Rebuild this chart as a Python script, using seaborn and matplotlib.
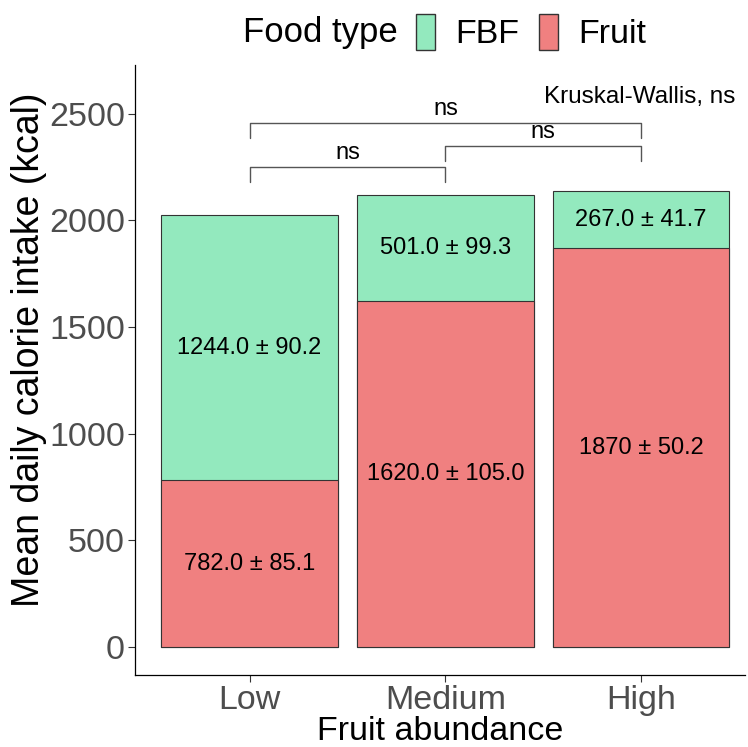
import numpy as np
import pandas as pd
import matplotlib
matplotlib.use('Agg')
import matplotlib.pyplot as plt
import seaborn as sns
from matplotlib.patches import Patch

# Datos
abundance = ['Low', 'Medium', 'High']
fruit_kcal = [782.0, 1620.0, 1870.0]
fbf_kcal = [1244.0, 501.0, 267.0]
fruit_labels = ['782.0 ± 85.1', '1620.0 ± 105.0', '1870 ± 50.2']
fbf_labels = ['1244.0 ± 90.2', '501.0 ± 99.3', '267.0 ± 41.7']

# Comparaciones por pares (grupo1, grupo2, altura del corchete, etiqueta)
comparisons = [('Low', 'Medium', 2251, 'ns'),
               ('Medium', 'High', 2350, 'ns'),
               ('Low', 'High', 2458, 'ns')]

df = pd.DataFrame({'abundance': abundance, 'fruit': fruit_kcal, 'fbf': fbf_kcal})
df['total'] = df['fruit'] + df['fbf']

col_fbf = '#93E9BE'
col_fruit = '#F08080'

sns.set_style('white')
plt.rcParams['font.family'] = ['Liberation Sans', 'DejaVu Sans']
plt.rcParams['text.color'] = 'black'
plt.rcParams['axes.labelcolor'] = 'black'

fig = plt.figure(figsize=(7.48, 7.47), dpi=100)
ax = fig.add_axes([0.180, 0.0964, 0.816, 0.817])

sns.barplot(data=df, x='abundance', y='total', color=col_fbf, saturation=1,
            width=0.9, edgecolor='#333333', linewidth=0.8, ax=ax)
sns.barplot(data=df, x='abundance', y='fruit', color=col_fruit, saturation=1,
            width=0.9, edgecolor='#333333', linewidth=0.8, ax=ax)

# Etiquetas dentro de las barras
for i in range(len(abundance)):
    ax.text(i, fruit_kcal[i] / 2, fruit_labels[i], ha='center', va='center',
            fontsize=17, color='black')
    ax.text(i, fruit_kcal[i] + fbf_kcal[i] / 2, fbf_labels[i], ha='center',
            va='center', fontsize=17, color='black')

# Corchetes de significancia
for g1, g2, h, lab in comparisons:
    x1, x2 = abundance.index(g1), abundance.index(g2)
    ax.plot([x1, x1, x2, x2], [h - 70, h, h, h - 70], color='#555555', lw=1)
    ax.text((x1 + x2) / 2, h + 12, lab, ha='center', va='bottom', fontsize=17)

ax.text(1.505, 2580, 'Kruskal-Wallis, ns', ha='left', va='center', fontsize=17.5)

ax.set_ylim(-131, 2730)
ax.set_xlim(-0.587, 2.53)
ax.set_yticks([0, 500, 1000, 1500, 2000, 2500])
ax.set_xlabel('Fruit abundance', fontsize=24.5, color='black', labelpad=0)
ax.set_ylabel('Mean daily calorie intake (kcal)', fontsize=27, color='black')
ax.yaxis.set_label_coords(-0.143, 0.533)
ax.tick_params(axis='both', labelsize=24.5, labelcolor='#4D4D4D', color='#333333',
               length=5, width=0.8, left=True, bottom=True, pad=2)
for side in ['top', 'right']:
    ax.spines[side].set_visible(False)
for side in ['left', 'bottom']:
    ax.spines[side].set_color('black')
    ax.spines[side].set_linewidth(0.9)

# Leyenda arriba
fig.text(0.325, 0.957, 'Food type', fontsize=25, ha='left', va='center', color='black')
handles = [Patch(facecolor=col_fbf, edgecolor='#333333', label='FBF'),
           Patch(facecolor=col_fruit, edgecolor='#333333', label='Fruit')]
fig.legend(handles=handles, loc='center left', bbox_to_anchor=(0.556, 0.957),
           ncol=2, frameon=False, fontsize=24.5, handlelength=0.55, handleheight=1.25,
           handletextpad=0.6, columnspacing=0.6, borderpad=0, borderaxespad=0,
           labelcolor='black')

fig.savefig('out.png', dpi=100)
